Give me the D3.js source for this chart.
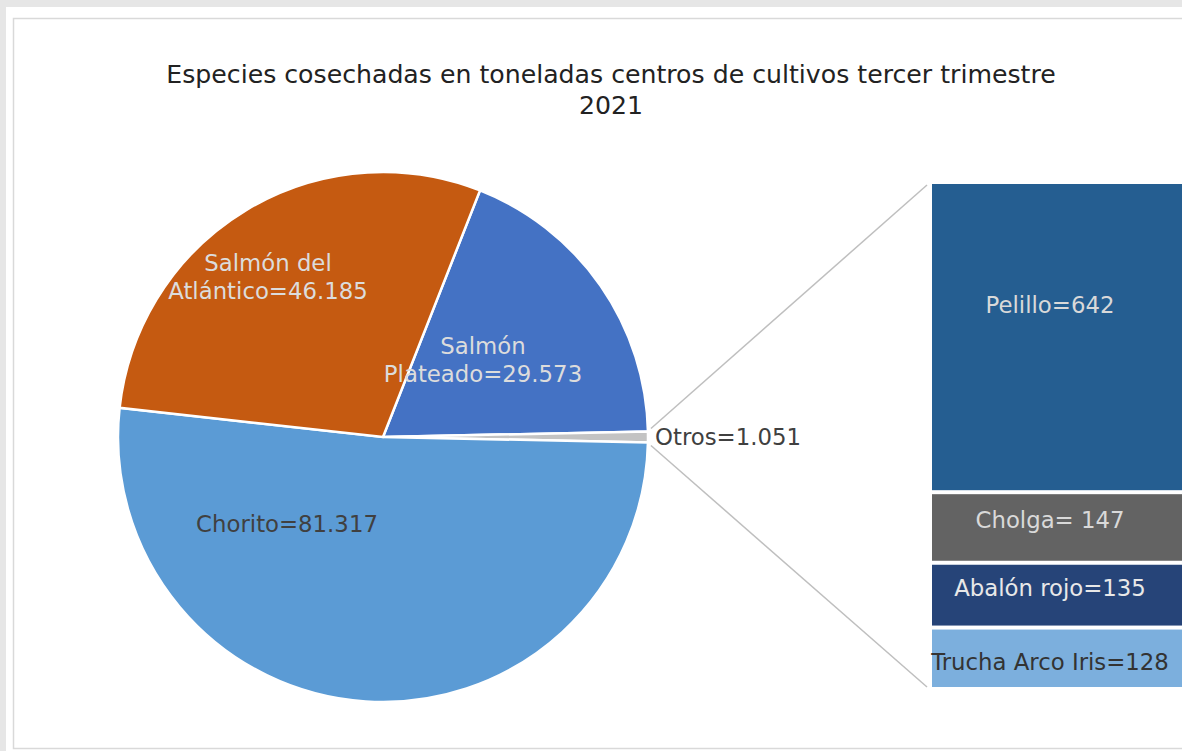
<!DOCTYPE html>
<html lang="es">
<head>
  <meta charset="UTF-8">
  <title>Especies cosechadas tercer trimestre 2021</title>
  <script src="https://d3js.org/d3.v7.min.js"></script>
  <style>
    body {
      margin: 0;
      background: #e6e6e6;
      font-family: "DejaVu Sans", Verdana, sans-serif;
    }
    svg { display: block; }
    .lbl { font-size: 22.8px; }
    .connector { stroke: #bfbfbf; stroke-width: 1.5; fill: none; }
  </style>
</head>
<body>
  <svg width="1182" height="751"></svg>

  <script>
    // pie data (toneladas)
    const pieNames = ["Salmón Plateado", "Otros", "Chorito", "Salmón del Atlántico"];
    const pieValues = [29573, 1051, 81317, 46185];
    const pieLabels = [["Salmón", "Plateado=29.573"], ["Otros=1.051"], ["Chorito=81.317"], ["Salmón del", "Atlántico=46.185"]];
    const pieColors = ["#4472c4", "#c3c3c3", "#5b9bd5", "#c55a11"];
    const pieTextColors = ["#dcdcdc", "#404040", "#404040", "#dcdcdc"];

    // breakdown of "Otros"
    const barNames = ["Pelillo", "Cholga", "Abalón rojo", "Trucha Arco Iris"];
    const barValues = [642, 147, 135, 128];
    const barLabels = ["Pelillo=642", "Cholga= 147", "Abalón rojo=135", "Trucha Arco Iris=128"];
    const barColors = ["#255e91", "#636363", "#264478", "#7cafdd"];
    const barTextColors = ["#d9d9d9", "#d9d9d9", "#e8e8e8", "#333333"];

    const titleLines = ["Especies cosechadas en toneladas centros de cultivos tercer trimestre", "2021"];

    const svg = d3.select("svg");

    // panel + border
    svg.append("rect").attr("x", 6).attr("y", 7).attr("width", 1176).attr("height", 744).attr("fill", "#fff");
    svg.append("rect").attr("x", 13.5).attr("y", 18.5).attr("width", 1180).attr("height", 730)
      .attr("fill", "none").attr("stroke", "#d9d9d9").attr("stroke-width", 1.5);

    // title
    svg.append("text")
      .attr("x", 611).attr("y", 83)
      .attr("text-anchor", "middle")
      .attr("fill", "#222")
      .style("font-size", "25.2px")
      .selectAll("tspan")
      .data(titleLines)
      .enter().append("tspan")
      .attr("x", 611)
      .attr("dy", (d, i) => i === 0 ? 0 : 31)
      .text(d => d);

    // pie
    const cx = 383, cy = 437, r = 265;
    const total = d3.sum(pieValues);
    const start = Math.PI / 2 - (pieValues[0] + pieValues[1] / 2) / total * 2 * Math.PI;
    const pie = d3.pie().sort(null).value(d => d)
      .startAngle(start).endAngle(start + 2 * Math.PI);
    const arcs = pie(pieValues);
    const arc = d3.arc().innerRadius(0).outerRadius(r);

    const g = svg.append("g").attr("transform", `translate(${cx},${cy})`);
    g.selectAll("path")
      .data(arcs)
      .enter().append("path")
      .attr("d", arc)
      .attr("fill", (d, i) => pieColors[i])
      .attr("stroke", "#fff")
      .attr("stroke-width", 2.5);

    // label positions (as Excel placed them)
    const labelPos = [[483, 354], [655, 445], [287, 532], [268, 271]];
    arcs.forEach((d, i) => {
      const t = svg.append("text")
        .attr("class", "lbl")
        .attr("fill", pieTextColors[i])
        .attr("text-anchor", i === 1 ? "start" : "middle");
      pieLabels[i].forEach((line, j) => {
        t.append("tspan")
          .attr("x", labelPos[i][0])
          .attr("y", labelPos[i][1] + j * 28)
          .text(line);
      });
    });

    // stacked bar of "Otros"
    const barX = 932, barW = 250;
    const y = d3.scaleLinear().domain([0, d3.sum(barValues)]).range([184, 689]);
    let acc = 0;
    const stack = barValues.map(v => { const s = acc; acc += v; return [s, acc]; });

    svg.selectAll(".bar")
      .data(stack)
      .enter().append("rect")
      .attr("class", "bar")
      .attr("x", barX)
      .attr("width", barW)
      .attr("y", d => y(d[0]) + (d[0] > 0 ? 2 : 0))
      .attr("height", d => y(d[1]) - y(d[0]) - (d[0] > 0 ? 4 : 2))
      .attr("fill", (d, i) => barColors[i]);

    // label offsets from segment centre (Pelillo label sits higher)
    const barLabelDy = [-25, 1, 1, 12];
    svg.selectAll(".blbl")
      .data(stack)
      .enter().append("text")
      .attr("class", "lbl")
      .attr("text-anchor", "middle")
      .attr("x", 1050)
      .attr("y", (d, i) => (y(d[0]) + y(d[1])) / 2 + barLabelDy[i])
      .attr("fill", (d, i) => barTextColors[i])
      .text((d, i) => barLabels[i]);

    // connector lines from Otros slice to the bar
    const otros = arcs[1];
    const p1 = [cx + r * Math.sin(otros.startAngle), cy - r * Math.cos(otros.startAngle)];
    const p2 = [cx + r * Math.sin(otros.endAngle), cy - r * Math.cos(otros.endAngle)];
    svg.append("line").attr("class", "connector")
      .attr("x1", p1[0] + 3).attr("y1", p1[1] - 3).attr("x2", barX - 5).attr("y2", y(0) + 1);
    svg.append("line").attr("class", "connector")
      .attr("x1", p2[0] + 3).attr("y1", p2[1] + 3).attr("x2", barX - 5).attr("y2", y(acc) - 2);
  </script>
</body>
</html>
